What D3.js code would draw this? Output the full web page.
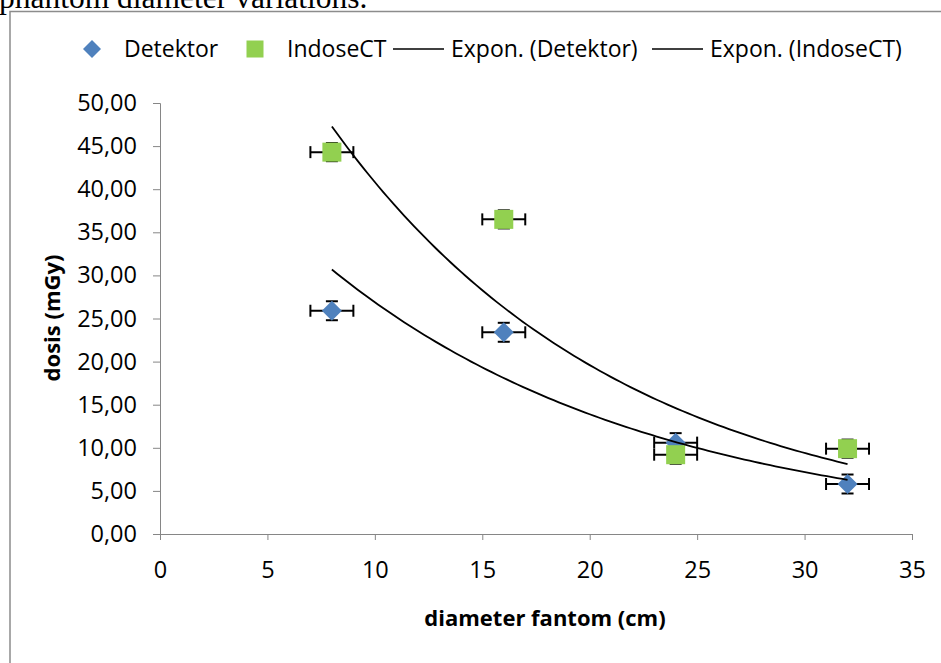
<!DOCTYPE html>
<html>
<head>
<meta charset="utf-8">
<script src="https://cdn.jsdelivr.net/npm/d3@7"></script>
<style>
  body { margin: 0; background: #fff; }
  svg { display: block; }
  text { font-family: "Open Sans", Lato, sans-serif; fill: #000; }
</style>
</head>
<body>
<svg id="canvas"></svg>
<script>
const width = 941
const height = 663

// data
const diameters = [8, 16, 24, 32]
const detektor = [25.9, 23.4, 10.6, 5.8]
const indoseCT = [44.3, 36.5, 9.2, 9.9]
const xErr = 1
const detektorErr = 1.1
const indoseErr = 1.05
const xTicks = [0, 5, 10, 15, 20, 25, 30, 35]
const yTicks = [0, 5, 10, 15, 20, 25, 30, 35, 40, 45, 50]
const legendLabels = ["Detektor", "IndoseCT", "Expon. (Detektor)", "Expon. (IndoseCT)"]

const blue = "#4f81bd"
const green = "#92d050"
const axisColor = "#868686"

const canvas = d3.select("#canvas").attr("width", width).attr("height", height)

// caption text cut off above the chart
canvas.append("text")
  .attr("x", -1).attr("y", 7.5)
  .style("font-family", "'Liberation Serif', 'Times New Roman', serif")
  .style("font-size", "31.5px")
  .text("phantom diameter variations.")

// chart border (runs off right and bottom)
canvas.append("rect")
  .attr("x", 10).attr("y", 11.5)
  .attr("width", 1000).attr("height", 1000)
  .attr("fill", "none").attr("stroke", "#8c8c8c").attr("stroke-width", 1.5)

const xScale = d3.scaleLinear().domain([0, 35]).range([160, 912])
const yScale = d3.scaleLinear().domain([0, 50]).range([534, 103])

const fmt = d => d.toFixed(2).replace(".", ",")

const xAxis = d3.axisBottom(xScale).tickValues(xTicks).tickSize(6).tickPadding(21).tickFormat(d3.format("d"))
const yAxis = d3.axisLeft(yScale).tickValues(yTicks).tickSize(7).tickPadding(16).tickFormat(fmt)

const gx = canvas.append("g").attr("transform", `translate(0,${yScale(0)})`).call(xAxis)
const gy = canvas.append("g").attr("transform", `translate(${xScale(0)},0)`).call(yAxis)
;[gx, gy].forEach(g => {
  g.select(".domain").attr("stroke", axisColor)
  g.selectAll(".tick line").attr("stroke", axisColor)
  g.selectAll(".tick text").style("font-size", "23.5px").attr("fill", "#000")
})

canvas.append("text")
  .attr("x", 545).attr("y", 626)
  .attr("text-anchor", "middle")
  .style("font-size", "22px").style("font-weight", "bold")
  .text("diameter fantom (cm)")

canvas.append("text")
  .attr("transform", "translate(60,318) rotate(-90)")
  .attr("text-anchor", "middle")
  .style("font-size", "22px").style("font-weight", "bold")
  .text("dosis (mGy)")

const series = [
  { values: detektor, color: blue, shape: "diamond", yErr: detektorErr },
  { values: indoseCT, color: green, shape: "square", yErr: indoseErr }
]

// error bars
const errG = canvas.append("g").attr("stroke", "#000").attr("stroke-width", 2)
series.forEach(s => {
  diameters.forEach((d, i) => {
    const cx = xScale(d), cy = yScale(s.values[i])
    const x0 = xScale(d - xErr), x1 = xScale(d + xErr)
    errG.append("line").attr("x1", x0).attr("x2", x1).attr("y1", cy).attr("y2", cy)
    errG.append("line").attr("x1", x0).attr("x2", x0).attr("y1", cy - 6).attr("y2", cy + 6)
    errG.append("line").attr("x1", x1).attr("x2", x1).attr("y1", cy - 6).attr("y2", cy + 6)
    const y0 = yScale(s.values[i] - s.yErr), y1 = yScale(s.values[i] + s.yErr)
    errG.append("line").attr("x1", cx).attr("x2", cx).attr("y1", y0).attr("y2", y1)
    errG.append("line").attr("x1", cx - 6).attr("x2", cx + 6).attr("y1", y0).attr("y2", y0)
    errG.append("line").attr("x1", cx - 6).attr("x2", cx + 6).attr("y1", y1).attr("y2", y1)
  })
})

const marker = (g, shape, color, x, y, size) => {
  if (shape === "diamond") {
    g.append("path")
      .attr("d", `M${x},${y - size / 2}L${x + size / 2},${y}L${x},${y + size / 2}L${x - size / 2},${y}Z`)
      .attr("fill", color)
  } else {
    g.append("rect")
      .attr("x", x - size / 2).attr("y", y - size / 2)
      .attr("width", size).attr("height", size)
      .attr("fill", color)
  }
}

const markG = canvas.append("g")
series.forEach(s => {
  diameters.forEach((d, i) => {
    marker(markG, s.shape, s.color, xScale(d), yScale(s.values[i]), s.shape === "diamond" ? 20 : 19)
  })
})

// exponential trendlines, least squares fit on ln(y)
const expFit = (xs, ys) => {
  const ly = ys.map(Math.log)
  const mx = d3.mean(xs), my = d3.mean(ly)
  const b = d3.sum(xs, (x, i) => (x - mx) * (ly[i] - my)) / d3.sum(xs, x => (x - mx) ** 2)
  const a = Math.exp(my - b * mx)
  return x => a * Math.exp(b * x)
}

const line = d3.line().x(d => xScale(d[0])).y(d => yScale(d[1]))
series.forEach(s => {
  const f = expFit(diameters, s.values)
  const pts = d3.range(0, 101).map(k => {
    const x = 8 + (32 - 8) * k / 100
    return [x, f(x)]
  })
  canvas.append("path").datum(pts).attr("d", line)
    .attr("fill", "none").attr("stroke", "#000").attr("stroke-width", 1.8)
})

// legend
const lg = canvas.append("g").style("font-size", "23px")
const ly = 49
marker(lg, "diamond", blue, 92, ly, 18)
lg.append("text").attr("x", 124).attr("y", ly + 8).text(legendLabels[0])
marker(lg, "square", green, 255, ly, 17)
lg.append("text").attr("x", 287).attr("y", ly + 8).text(legendLabels[1])
lg.append("line").attr("x1", 393).attr("x2", 444).attr("y1", ly).attr("y2", ly).attr("stroke", "#000").attr("stroke-width", 1.5)
lg.append("text").attr("x", 451).attr("y", ly + 8).text(legendLabels[2])
lg.append("line").attr("x1", 652).attr("x2", 703).attr("y1", ly).attr("y2", ly).attr("stroke", "#000").attr("stroke-width", 1.5)
lg.append("text").attr("x", 710).attr("y", ly + 8).text(legendLabels[3])
</script>
</body>
</html>
